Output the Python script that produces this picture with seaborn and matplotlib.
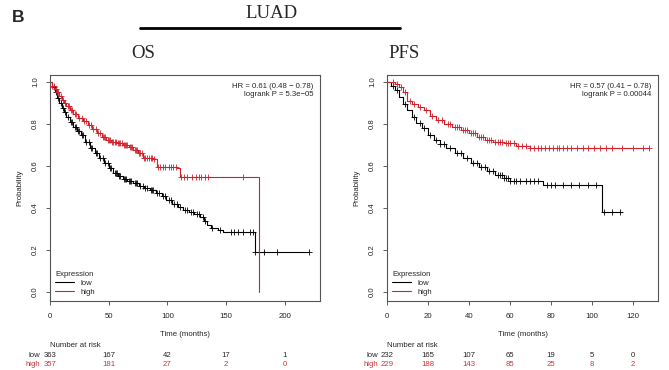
import numpy as np
import pandas as pd
import matplotlib
matplotlib.use("Agg")
import matplotlib.pyplot as plt
import seaborn as sns

sns.set_style("ticks")
plt.rcParams['font.family'] = ['Liberation Sans', 'DejaVu Sans']

# ---------------- data ----------------
# OS (left panel)
os_low_t = [0, 2, 4, 6, 8, 10, 12, 14, 17, 20, 23, 26, 30, 34, 38, 42, 46, 50, 54, 58, 62, 66, 71, 76, 80,
            85, 90, 95, 99, 104, 109, 113, 118, 123, 128, 131, 134, 137, 143, 147, 174.5, 221]
os_low_s = [1.0, 0.975, 0.95, 0.925, 0.9, 0.875, 0.855, 0.835, 0.81, 0.785, 0.765, 0.745, 0.715, 0.684, 0.66,
            0.636, 0.615, 0.59, 0.565, 0.55, 0.54, 0.53, 0.518, 0.505, 0.497, 0.486, 0.47, 0.455, 0.438, 0.42,
            0.405, 0.39, 0.38, 0.37, 0.359, 0.34, 0.318, 0.303, 0.293, 0.287, 0.189, 0.189]
os_high_t = [0, 2, 4, 6, 8, 10, 12, 14, 17, 20, 24, 28, 32, 36, 40, 44, 48, 52, 57, 62, 67, 71, 75, 79, 88,
             91, 100, 108, 111, 178]
os_high_s = [1.0, 0.98, 0.965, 0.95, 0.935, 0.915, 0.9, 0.885, 0.868, 0.848, 0.83, 0.812, 0.795, 0.775, 0.755,
             0.737, 0.725, 0.715, 0.708, 0.698, 0.688, 0.676, 0.66, 0.64, 0.632, 0.597, 0.594, 0.59, 0.549, 0.0]
os_low_cens = [3, 5, 7, 9, 11, 13, 15, 18, 19, 21, 22, 24, 25, 27, 28, 31, 33, 35, 36, 39, 40, 43, 45, 47, 49,
               51, 52, 55, 56, 57, 59, 60, 63, 64, 65, 67, 68, 69, 72, 73, 74, 77, 79, 81, 83, 86, 87, 88, 91,
               93, 96, 98, 101, 103, 106, 108, 111, 115, 117, 120, 122, 125, 127, 130, 132, 138, 145, 154, 157,
               160, 164, 170, 173, 175, 182, 193, 221]
os_high_cens = [2, 3, 5, 6, 7, 9, 11, 13, 15, 16, 18, 19, 21, 22, 25, 27, 29, 31, 33, 35, 37, 39, 41, 43, 45,
                46, 47, 49, 50, 51, 53, 54, 55, 56, 58, 59, 60, 61, 63, 64, 65, 66, 68, 69, 70, 72, 73, 74, 76,
                77, 78, 80, 81, 83, 84, 86, 87, 89, 92, 94, 96, 98, 101, 103, 105, 107, 112, 114, 117, 121, 124,
                127, 129, 132, 135, 164]

# PFS (right panel)
pfs_low_t = [0, 2, 4, 6, 8, 10, 12, 14, 17, 20, 23, 26, 29, 33, 37, 41, 45, 49, 53, 57, 60, 76, 105, 115]
pfs_low_s = [1.0, 0.98, 0.96, 0.93, 0.895, 0.865, 0.835, 0.805, 0.78, 0.748, 0.725, 0.705, 0.684, 0.66, 0.636,
             0.615, 0.597, 0.578, 0.557, 0.542, 0.53, 0.51, 0.382, 0.382]
pfs_high_t = [0, 4, 6, 8, 10, 12, 15, 18, 21, 24, 28, 32, 36, 40, 44, 48, 52, 57, 63, 70, 128]
pfs_high_s = [1.0, 0.99, 0.975, 0.95, 0.91, 0.895, 0.88, 0.865, 0.84, 0.819, 0.8, 0.787, 0.772, 0.755, 0.737,
              0.724, 0.716, 0.708, 0.695, 0.684, 0.684]
pfs_low_cens = [3, 5, 9, 13, 16, 18, 21, 24, 26, 28, 31, 34, 36, 39, 42, 44, 46, 48, 50, 52, 54, 55, 56, 57,
                58, 59, 60, 62, 63, 65, 68, 70, 72, 74, 78, 80, 82, 86, 90, 94, 98, 102, 106, 110, 114]
pfs_high_cens = [3, 5, 7, 9, 11, 13, 16, 19, 22, 25, 27, 30, 31, 33, 34, 35, 37, 38, 39, 41, 42, 43, 45, 46,
                 47, 49, 50, 51, 53, 54, 55, 56, 58, 59, 60, 62, 64, 66, 68, 70, 72, 74, 75, 77, 79, 81, 83,
                 84, 86, 88, 90, 93, 96, 98, 101, 104, 107, 110, 115, 120, 125, 128]

os_risk_times = [0, 50, 100, 150, 200]
os_risk_low = [363, 167, 42, 17, 1]
os_risk_high = [357, 181, 27, 2, 0]
pfs_risk_times = [0, 20, 40, 60, 80, 100, 120]
pfs_risk_low = [232, 165, 107, 65, 19, 5, 0]
pfs_risk_high = [229, 188, 143, 85, 25, 8, 2]

os_stats = ["HR = 0.61 (0.48 \u2212 0.78)", "logrank P = 5.3e\u221205"]
pfs_stats = ["HR = 0.57 (0.41 \u2212 0.78)", "logrank P = 0.00044"]

RED = "#d0202a"
RISK_RED = "#c8373c"
SMALL = 5.6

fig = plt.figure(figsize=(6.69, 3.70), dpi=100)


def step_lookup(t, s, c):
    idx = np.searchsorted(np.asarray(t), np.asarray(c), side="right") - 1
    return np.asarray(s)[idx]


def draw_panel(ax, low_t, low_s, high_t, high_s, low_c, high_c, xmax, xticks, stats,
               risk_t, risk_low, risk_high, lab_off):
    for t, s, c, col, lab in [(low_t, low_s, low_c, "black", "low"),
                              (high_t, high_s, high_c, RED, "high")]:
        df = pd.DataFrame({"time": t, "surv": s})
        sns.lineplot(data=df, x="time", y="surv", ax=ax, color=col, lw=0.8,
                     drawstyle="steps-post", estimator=None, sort=True, label=lab)
        cdf = pd.DataFrame({"time": c, "surv": step_lookup(t, s, c)})
        sns.scatterplot(data=cdf, x="time", y="surv", ax=ax, marker="+", color=col,
                        s=16, linewidth=0.6, legend=False, zorder=3)
    ax.set_xlim(0, xmax)
    ax.set_ylim(-0.043, 1.033)
    ax.set_xticks(xticks)
    ax.set_xticklabels([str(x) for x in xticks], fontsize=SMALL)
    ax.set_yticks([0, 0.2, 0.4, 0.6, 0.8, 1.0])
    ax.set_yticklabels(["0.0", "0.2", "0.4", "0.6", "0.8", "1.0"], fontsize=SMALL,
                       rotation=90, va="center")
    ax.tick_params(direction="out", length=3, width=0.6, color="#444444", pad=5)
    ax.tick_params(axis="x", pad=6)
    for sp in ax.spines.values():
        sp.set_visible(True)
        sp.set_color("#555555")
        sp.set_linewidth(0.8)
    ax.set_xlabel("")
    ax.set_ylabel("Probability", fontsize=SMALL, labelpad=6)
    ax.text(0.975, 0.965, stats[0] + "\n" + stats[1], transform=ax.transAxes,
            ha="right", va="top", fontsize=SMALL, linespacing=1.3)
    leg = ax.legend(loc="lower left", frameon=False, title="Expression", fontsize=SMALL,
                    title_fontsize=SMALL, handlelength=2.4, handletextpad=0.8,
                    labelspacing=0.15, borderaxespad=0.3, bbox_to_anchor=(0.0, 0.0))
    leg._legend_box.align = "left"
    for h in leg.get_lines():
        h.set_linewidth(0.8)
    trans = matplotlib.transforms.blended_transform_factory(ax.transData, ax.transAxes)
    ax.text(0.5, -0.15, "Time (months)", transform=ax.transAxes, ha="center",
            va="center", fontsize=SMALL)
    ax.text(0, -0.198, "Number at risk", transform=trans, ha="left", va="center",
            fontsize=SMALL)
    for tt, lo, hi in zip(risk_t, risk_low, risk_high):
        ax.text(tt, -0.24, str(lo), transform=trans, ha="center", va="center", fontsize=SMALL)
        ax.text(tt, -0.283, str(hi), transform=trans, ha="center", va="center", fontsize=SMALL,
                color=RISK_RED)
    ax.text(lab_off, -0.24, "low", transform=trans, ha="right", va="center", fontsize=SMALL)
    ax.text(lab_off, -0.283, "high", transform=trans, ha="right", va="center", fontsize=SMALL,
            color=RISK_RED)


ax1 = fig.add_axes([50 / 669, 1 - 301 / 370, 270 / 669, 226 / 370])
ax2 = fig.add_axes([387 / 669, 1 - 301 / 370, 271 / 669, 226 / 370])

draw_panel(ax1, os_low_t, os_low_s, os_high_t, os_high_s, os_low_cens, os_high_cens, 230,
           [0, 50, 100, 150, 200], os_stats, os_risk_times, os_risk_low, os_risk_high, -8)
draw_panel(ax2, pfs_low_t, pfs_low_s, pfs_high_t, pfs_high_s, pfs_low_cens, pfs_high_cens, 132.4,
           [0, 20, 40, 60, 80, 100, 120], pfs_stats, pfs_risk_times, pfs_risk_low, pfs_risk_high, -4.5)

serif = ['Liberation Serif', 'DejaVu Serif']
fig.text(12 / 669, 1 - 17 / 370, "B", fontsize=12.5, fontweight="bold", ha="left", va="center")
fig.text(272 / 669, 1 - 13 / 370, "LUAD", fontsize=13.5, family=serif, ha="center", va="center")
fig.add_artist(matplotlib.lines.Line2D([140 / 669, 400 / 669], [1 - 28 / 370, 1 - 28 / 370],
                                       color="black", lw=2.0))
fig.text(143 / 669, 1 - 54 / 370, "OS", fontsize=13.5, family=serif, ha="center", va="center")
fig.text(404 / 669, 1 - 54 / 370, "PFS", fontsize=13.5, family=serif, ha="center", va="center")

fig.savefig("out.png", dpi=100)
